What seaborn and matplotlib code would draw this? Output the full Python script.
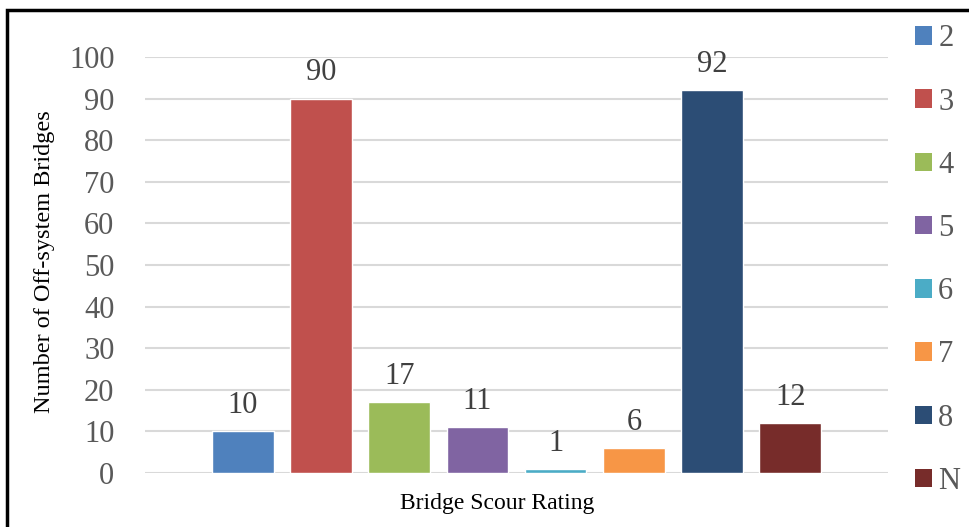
import matplotlib
matplotlib.use("Agg")
import matplotlib.pyplot as plt
import seaborn as sns
from matplotlib.patches import Patch, Rectangle

# Bridge scour rating counts
ratings = ["2", "3", "4", "5", "6", "7", "8", "N"]
counts = [10, 90, 17, 11, 1, 6, 92, 12]
colors = ["#4F81BD", "#C0504D", "#9BBB59", "#8064A2",
          "#4BACC6", "#F79646", "#2C4D75", "#772C2A"]

sns.set_style("white")
plt.rcParams["font.family"] = ["Liberation Serif", "DejaVu Serif"]

fig = plt.figure(figsize=(9.69, 5.27), dpi=100)
ax = fig.add_axes([145 / 969, 1 - 473 / 527, (888 - 145) / 969, (473 - 57) / 527])

sns.barplot(x=ratings, y=counts, hue=ratings, palette=colors, width=0.79,
            saturation=1, legend=False, ax=ax, zorder=3)

for c in ax.containers:
    ax.bar_label(c, padding=8, fontsize=22, color="#404040", clip_on=False)

ax.set_xlim(-1.25, 7 + 1.25)
ax.set_ylim(0, 100)
ax.set_yticks(range(0, 101, 10))
ax.tick_params(axis="y", labelsize=22, labelcolor="#595959", length=0, pad=22)
ax.set_xticks([])
ax.grid(axis="y", color="#D9D9D9", linewidth=1.5, zorder=0)
for s in ax.spines.values():
    s.set_visible(False)
ax.set_xlabel("")
ax.set_ylabel("")

fig.text(45 / 969, 1 - 262 / 527, "Number of Off-system Bridges", rotation=90,
         ha="center", va="center", fontsize=17.5, color="black")
fig.text(497 / 969, 1 - 503 / 527, "Bridge Scour Rating",
         ha="center", va="center", fontsize=17, color="black")

handles = [Patch(facecolor=col, edgecolor="none") for col in colors]
fig.legend(handles, ratings, loc="upper left", bbox_to_anchor=(900 / 969, 1 - 9 / 527),
           frameon=False, fontsize=22, labelcolor="#595959", handlelength=0.55,
           handleheight=0.55, handletextpad=0.2, labelspacing=1.12, borderpad=0)

fig.patches.append(Rectangle((7 / 969, -0.1), 1.1, 1 - 10 / 527 + 0.1,
                             transform=fig.transFigure, fill=False,
                             edgecolor="black", linewidth=2.5))

fig.savefig("out.png", dpi=100)
